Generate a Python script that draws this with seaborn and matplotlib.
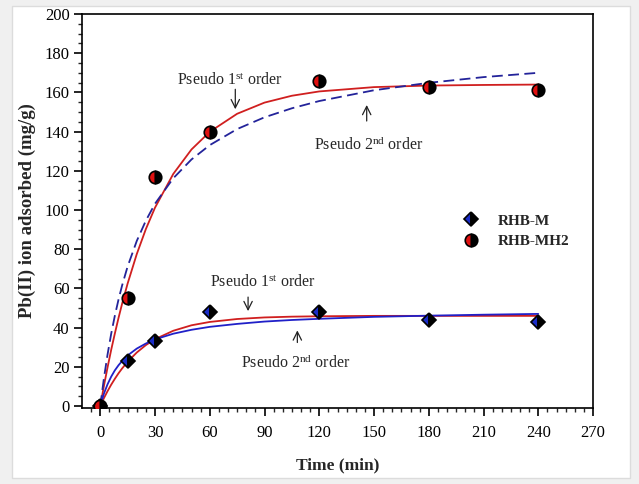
import matplotlib
matplotlib.use("Agg")
import matplotlib.pyplot as plt
import seaborn as sns
import pandas as pd
from matplotlib.patches import Rectangle
from matplotlib.lines import Line2D

# ---- data ----
t_obs = [0, 15, 30, 60, 120, 180, 240]
rhb_m = [0, 23, 33, 48, 48, 44, 43]
rhb_mh2 = [0, 55, 117, 140, 166, 163, 161]

t_fit = [0, 2, 4, 6, 8, 10, 12, 15, 20, 25, 30, 40, 50, 60, 75, 90, 105, 120, 150, 180, 210, 240]
mh2_first = [0, 10.2, 19.7, 28.7, 37.0, 44.9, 52.3, 62.5, 77.5, 90.3, 101.2, 118.4, 130.9, 139.9,
             149.1, 154.8, 158.3, 160.5, 162.7, 163.5, 163.8, 164.0]
mh2_second = [0, 14.1, 26.3, 36.9, 46.1, 54.3, 61.6, 71.2, 84.2, 94.6, 103.2, 116.2, 125.8, 133.1,
              141.3, 147.3, 151.9, 155.6, 161.1, 164.9, 167.8, 170.0]
m_first = [0, 4.0, 7.6, 10.9, 13.9, 16.7, 19.2, 22.6, 27.3, 31.1, 34.1, 38.4, 41.2, 42.9,
           44.4, 45.2, 45.6, 45.8, 46.0, 46.0, 46.0, 46.0]
m_second = [0, 6.3, 11.1, 15.0, 18.2, 20.8, 23.0, 25.8, 29.3, 31.9, 34.0, 36.9, 38.9, 40.4,
            41.9, 43.1, 43.9, 44.5, 45.5, 46.1, 46.6, 47.0]

x_ticks = [0, 30, 60, 90, 120, 150, 180, 210, 240, 270]
y_ticks = [0, 20, 40, 60, 80, 100, 120, 140, 160, 180, 200]

sns.set_style("ticks")
plt.rcParams['font.family'] = ['Liberation Serif', 'DejaVu Serif']
plt.rcParams['mathtext.fontset'] = 'custom'
plt.rcParams['mathtext.rm'] = 'Liberation Serif'
plt.rcParams['mathtext.it'] = 'Liberation Serif'

fig = plt.figure(figsize=(6.39, 4.84), dpi=100, facecolor='#f0f0f0')
bg = Rectangle((12 / 639, 1 - 478 / 484), (630 - 12) / 639, (478 - 6) / 484,
               transform=fig.transFigure, facecolor='white',
               edgecolor='#dcdcdc', lw=1, zorder=-10)
fig.patches.append(bg)
ax = fig.add_axes([82 / 639, 1 - 408 / 484, (593 - 82) / 639, (408 - 14) / 484])
ax.set_zorder(5)
ax.set_facecolor('white')

df = pd.DataFrame({'t': t_fit, 'mh2_1': mh2_first, 'mh2_2': mh2_second,
                   'm_1': m_first, 'm_2': m_second})

red = '#d01f1f'
sns.lineplot(data=df, x='t', y='mh2_1', ax=ax, color=red, lw=1.3)
sns.lineplot(data=df, x='t', y='mh2_2', ax=ax, color='#23239a', lw=1.3, linestyle=(0, (6, 3)))
sns.lineplot(data=df, x='t', y='m_1', ax=ax, color=red, lw=1.3)
sns.lineplot(data=df, x='t', y='m_2', ax=ax, color='#2020c8', lw=1.3)

ax.plot(t_obs, rhb_m, linestyle='none', marker='D', markersize=7.5, fillstyle='left',
        markerfacecolor='#1a2cc8', markerfacecoloralt='black', markeredgecolor='black',
        markeredgewidth=1.2, zorder=5)
ax.plot(t_obs, rhb_mh2, linestyle='none', marker='o', markersize=9, fillstyle='left',
        markerfacecolor='#e01010', markerfacecoloralt='black', markeredgecolor='black',
        markeredgewidth=1.2, zorder=5)

ax.set_xlim(-10, 270)
ax.set_ylim(-1, 200)
ax.set_xticks(x_ticks)
ax.set_yticks(y_ticks)
ax.set_xticks(range(-5, 271, 5), minor=True)
ax.set_yticks(range(0, 201, 5), minor=True)
ax.tick_params(axis='both', which='major', direction='out', length=6, width=1.2,
               labelsize=12, colors='black', top=False, right=False)
ax.tick_params(axis='both', which='minor', direction='out', length=3, width=1.0,
               top=False, right=False)
ax.tick_params(axis='x', pad=6)
ax.tick_params(axis='y', pad=3)
for s in ax.spines.values():
    s.set_visible(True)
    s.set_linewidth(1.2)
    s.set_color('black')

ax.set_xlabel('Time (min)', fontsize=12.5, fontweight='bold', labelpad=12)
ax.set_ylabel('Pb(II) ion adsorbed (mg/g)', fontsize=13.5, fontweight='bold', labelpad=6)

fs = 11.5
arrow = dict(arrowstyle='->,head_length=0.6,head_width=0.3', color='#222222', lw=0.9)
ax.text(71, 166, r'Pseudo 1$^{\mathrm{st}}$ order', fontsize=fs, ha='center', va='center')
ax.annotate('', xy=(74, 150), xytext=(74, 163), arrowprops=arrow)
ax.text(147, 133, r'Pseudo 2$^{\mathrm{nd}}$ order', fontsize=fs, ha='center', va='center')
ax.annotate('', xy=(146, 155), xytext=(146, 144), arrowprops=arrow)
ax.text(89, 63, r'Pseudo 1$^{\mathrm{st}}$ order', fontsize=fs, ha='center', va='center')
ax.annotate('', xy=(81, 47), xytext=(81, 57), arrowprops=arrow)
ax.text(107, 22, r'Pseudo 2$^{\mathrm{nd}}$ order', fontsize=fs, ha='center', va='center')
ax.annotate('', xy=(108, 40), xytext=(108, 31), arrowprops=arrow)

handles = [
    Line2D([], [], linestyle='none', marker='D', markersize=7.5, fillstyle='left',
           markerfacecolor='#1a2cc8', markerfacecoloralt='black', markeredgecolor='black',
           markeredgewidth=1.2),
    Line2D([], [], linestyle='none', marker='o', markersize=9, fillstyle='left',
           markerfacecolor='#e01010', markerfacecoloralt='black', markeredgecolor='black',
           markeredgewidth=1.2),
]
leg = ax.legend(handles, ['RHB-M', 'RHB-MH2'], loc='upper left',
                bbox_to_anchor=((450 - 82) / 511, 1 - (208 - 14) / 394),
                frameon=False, prop={'family': 'Liberation Serif', 'weight': 'bold', 'size': 11},
                handletextpad=0.7, labelspacing=0.45, borderaxespad=0)

fig.savefig('out.png', dpi=100, facecolor=fig.get_facecolor())
